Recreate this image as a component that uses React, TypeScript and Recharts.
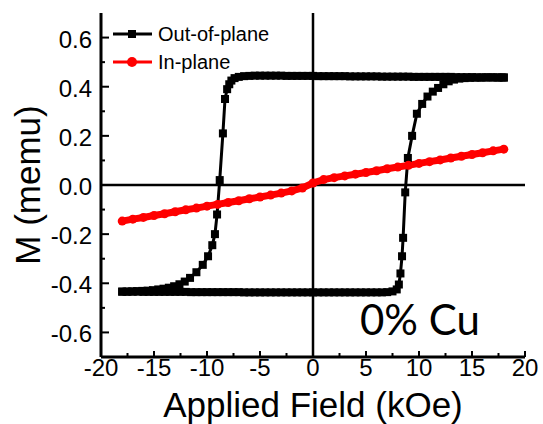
import { LineChart, Line, XAxis, YAxis, ReferenceLine, Legend, Label } from 'recharts';

// field (kOe), moment (memu)
const outOfPlaneDown: [number, number][] = [
  [18, 0.437], [17.5, 0.437], [17, 0.438], [16.5, 0.438], [16, 0.438], [15.5, 0.438], [15, 0.439],
  [14.5, 0.439], [14, 0.439], [13.5, 0.439], [13, 0.44], [12.5, 0.44], [12, 0.44], [11.5, 0.44],
  [11, 0.44], [10.5, 0.44], [10, 0.44], [9.5, 0.44], [9, 0.441], [8.5, 0.441], [8, 0.441],
  [7.5, 0.441], [7, 0.441], [6.5, 0.441], [6, 0.442], [5.5, 0.442], [5, 0.442], [4.5, 0.442],
  [4, 0.442], [3.5, 0.442], [3, 0.443], [2.5, 0.443], [2, 0.443], [1.5, 0.443], [1, 0.443],
  [0.5, 0.443], [0, 0.444], [-0.5, 0.444], [-1, 0.444], [-1.5, 0.444], [-2, 0.444], [-2.5, 0.444],
  [-3, 0.445], [-3.5, 0.445], [-4, 0.445], [-4.5, 0.445], [-5, 0.445], [-5.5, 0.445], [-6, 0.444],
  [-6.5, 0.443], [-7, 0.44], [-7.4, 0.435], [-7.7, 0.425], [-7.9, 0.41], [-8.1, 0.39], [-8.3, 0.35],
  [-8.5, 0.21], [-8.8, 0.02], [-9.05, -0.12], [-9.25, -0.2], [-9.5, -0.245], [-9.9, -0.29],
  [-10.4, -0.325], [-11, -0.355], [-11.6, -0.378], [-12.1, -0.393], [-12.6, -0.404], [-13.1, -0.412],
  [-13.6, -0.418], [-14.1, -0.422], [-14.6, -0.425], [-15.1, -0.428], [-15.6, -0.43], [-16.1, -0.431],
  [-16.6, -0.432], [-17.1, -0.433], [-17.6, -0.434], [-18, -0.434],
];

const outOfPlaneUp: [number, number][] = [
  [-18, -0.434], [-17.5, -0.434], [-17, -0.434], [-16.5, -0.434], [-16, -0.435], [-15.5, -0.435],
  [-15, -0.435], [-14.5, -0.435], [-14, -0.435], [-13.5, -0.435], [-13, -0.435], [-12.5, -0.435],
  [-12, -0.435], [-11.5, -0.436], [-11, -0.436], [-10.5, -0.436], [-10, -0.436], [-9.5, -0.436],
  [-9, -0.436], [-8.5, -0.436], [-8, -0.436], [-7.5, -0.436], [-7, -0.436], [-6.5, -0.437],
  [-6, -0.437], [-5.5, -0.437], [-5, -0.437], [-4.5, -0.437], [-4, -0.437], [-3.5, -0.437],
  [-3, -0.437], [-2.5, -0.437], [-2, -0.437], [-1.5, -0.437], [-1, -0.437], [-0.5, -0.437],
  [0, -0.437], [0.5, -0.437], [1, -0.437], [1.5, -0.437], [2, -0.437], [2.5, -0.437], [3, -0.437],
  [3.5, -0.437], [4, -0.437], [4.5, -0.437], [5, -0.437], [5.5, -0.437], [6, -0.437], [6.5, -0.437],
  [7, -0.436], [7.5, -0.433], [7.9, -0.425], [8.1, -0.405], [8.25, -0.36], [8.4, -0.29],
  [8.5, -0.215], [8.7, -0.03], [8.95, 0.11], [9.35, 0.2], [9.8, 0.29], [10.3, 0.33], [10.8, 0.36],
  [11.3, 0.38], [11.8, 0.395], [12.3, 0.41], [12.8, 0.422], [13.3, 0.429], [13.8, 0.433],
  [14.3, 0.435], [14.8, 0.436], [15.3, 0.437], [15.8, 0.437], [16.3, 0.438], [16.8, 0.438],
  [17.3, 0.438], [17.8, 0.438], [18, 0.438],
];

const inPlane: [number, number][] = [
  [-18, -0.147], [-17, -0.139], [-16, -0.132], [-15, -0.124], [-14, -0.117], [-13, -0.109],
  [-12, -0.101], [-11, -0.094], [-10, -0.086], [-9, -0.079], [-8, -0.071], [-7, -0.064],
  [-6, -0.056], [-5, -0.049], [-4, -0.041], [-3, -0.033], [-2, -0.024], [-1, -0.012], [0, 0.008],
  [1, 0.022], [2, 0.03], [3, 0.037], [4, 0.044], [5, 0.051], [6, 0.058], [7, 0.066], [8, 0.073],
  [9, 0.08], [10, 0.088], [11, 0.095], [12, 0.102], [13, 0.11], [14, 0.117], [15, 0.124],
  [16, 0.131], [17, 0.139], [18, 0.146],
];

const xTicks = [-20, -17.5, -15, -12.5, -10, -7.5, -5, -2.5, 0, 2.5, 5, 7.5, 10, 12.5, 15, 17.5, 20];
const xLabels = [-20, -15, -10, -5, 0, 5, 10, 15, 20];
const yTicks = [-0.6, -0.5, -0.4, -0.3, -0.2, -0.1, 0, 0.1, 0.2, 0.3, 0.4, 0.5, 0.6];
const yLabels = [-0.6, -0.4, -0.2, 0, 0.2, 0.4, 0.6];

const legendItems = [
  { name: 'Out-of-plane', color: '#000000', marker: 'square' },
  { name: 'In-plane', color: '#ff0000', marker: 'circle' },
];

const toRows = (pts: [number, number][]) => pts.map(([h, m]) => ({ h, m }));
const loopData = toRows([...outOfPlaneDown, ...outOfPlaneUp]);
const inPlaneData = toRows(inPlane);

const FONT = '"Liberation Sans", Arial, sans-serif';
const frame = { stroke: '#000', strokeWidth: 3 };

const BottomTick = ({ x, y, payload }: any) => {
  const major = xLabels.includes(payload.value);
  return (
    <g>
      <line x1={x} x2={x} y1={y} y2={y - (major ? 6 : 4)} stroke="#000" strokeWidth={2} />
      {major && (
        <text x={x} y={y + 19} textAnchor="middle" fontSize={24} fontFamily={FONT} fill="#000" stroke="none">
          {payload.value}
        </text>
      )}
    </g>
  );
};

const TopTick = ({ x, y, payload }: any) => {
  const major = xLabels.includes(payload.value);
  return <line x1={x} x2={x} y1={y} y2={y + (major ? 6 : 4)} stroke="#000" strokeWidth={2} />;
};

const LeftTick = ({ x, y, payload }: any) => {
  const major = yLabels.includes(payload.value);
  return (
    <g>
      <line x1={x} x2={x + (major ? 8 : 4)} y1={y} y2={y} stroke="#000" strokeWidth={2} />
      {major && (
        <text x={x - 9} y={y + 10} textAnchor="end" fontSize={24} fontFamily={FONT} fill="#000" stroke="none">
          {payload.value.toFixed(1)}
        </text>
      )}
    </g>
  );
};

const RightTick = ({ x, y, payload }: any) => {
  const major = yLabels.includes(payload.value);
  return <line x1={x} x2={x - (major ? 8 : 4)} y1={y} y2={y} stroke="#000" strokeWidth={2} />;
};

const SquareDot = (p: any) => (
  <rect key={`sq-${p.index}`} x={p.cx - 4} y={p.cy - 4} width={8} height={8} fill="#000" />
);

const RoundDot = (p: any) => <circle key={`ci-${p.index}`} cx={p.cx} cy={p.cy} r={4.5} fill="#ff0000" />;

const LegendBox = () => (
  <svg width={230} height={56} style={{ display: 'block' }}>
    {legendItems.map((item, i) => {
      const cy = 14 + i * 28;
      return (
        <g key={item.name}>
          <line x1={5} x2={44} y1={cy} y2={cy} stroke={item.color} strokeWidth={3} />
          {item.marker === 'square' ? (
            <rect x={20} y={cy - 4} width={8} height={8} fill={item.color} />
          ) : (
            <circle cx={24} cy={cy} r={5} fill={item.color} />
          )}
          <text x={50} y={cy + 7} fontSize={20} fontFamily={FONT} fill="#000">
            {item.name}
          </text>
        </g>
      );
    })}
  </svg>
);

export default function App() {
  return (
    <div style={{ position: 'absolute', left: 0, top: 0, background: '#fff' }}>
      <LineChart width={543} height={424} margin={{ top: 13, right: 18, bottom: 0, left: 0 }}>
        <XAxis
          dataKey="h"
          type="number"
          domain={[-20, 20]}
          ticks={xTicks}
          interval={0}
          height={67}
          tickSize={0}
          tickMargin={0}
          tick={<BottomTick />}
          stroke="#000"
          strokeWidth={3}
          axisLine={frame}
          allowDataOverflow
        >
          <Label
            content={() => (
              <text x={313} y={417} textAnchor="middle" fontSize={35} fontFamily={FONT} fill="#000">
                Applied Field (kOe)
              </text>
            )}
          />
          <Label
            content={() => (
              <text x={360} y={335} fontSize={42} fontFamily="Lato, sans-serif" fill="#000">
                0% Cu
              </text>
            )}
          />
        </XAxis>
        <XAxis
          xAxisId="top"
          orientation="top"
          dataKey="h"
          type="number"
          domain={[-20, 20]}
          ticks={xTicks}
          interval={0}
          height={0}
          tickSize={0}
          tickMargin={0}
          tick={<TopTick />}
          stroke="#000"
          strokeWidth={3}
          axisLine={frame}
          allowDataOverflow
        />
        <YAxis
          type="number"
          domain={[-0.7, 0.7]}
          ticks={yTicks}
          interval={0}
          width={101}
          tickSize={0}
          tickMargin={0}
          tick={<LeftTick />}
          stroke="#000"
          strokeWidth={3}
          axisLine={frame}
          allowDataOverflow
        >
          <Label
            content={() => (
              <text
                x={40}
                y={185}
                transform="rotate(-90 40 185)"
                textAnchor="middle"
                fontSize={35}
                fontFamily={FONT}
                fill="#000"
              >
                M (memu)
              </text>
            )}
          />
        </YAxis>
        <YAxis
          yAxisId="right"
          orientation="right"
          type="number"
          domain={[-0.7, 0.7]}
          ticks={yTicks}
          interval={0}
          width={0}
          tickSize={0}
          tickMargin={0}
          tick={<RightTick />}
          stroke="#000"
          strokeWidth={3}
          axisLine={frame}
          allowDataOverflow
        />
        <ReferenceLine y={0} stroke="#000" strokeWidth={2.5} />
        <ReferenceLine x={0} stroke="#000" strokeWidth={2.5} />
        <Legend
          layout="vertical"
          align="center"
          verticalAlign="middle"
          wrapperStyle={{ top: 20, left: 108, width: 230, height: 56 }}
          content={<LegendBox />}
        />
        <Line
          data={loopData}
          dataKey="m"
          name="Out-of-plane"
          stroke="#000"
          strokeWidth={3}
          dot={SquareDot}
          activeDot={false}
          isAnimationActive={false}
        />
        <Line
          data={inPlaneData}
          dataKey="m"
          name="In-plane"
          stroke="#ff0000"
          strokeWidth={7}
          dot={RoundDot}
          activeDot={false}
          isAnimationActive={false}
        />
      </LineChart>
    </div>
  );
}
